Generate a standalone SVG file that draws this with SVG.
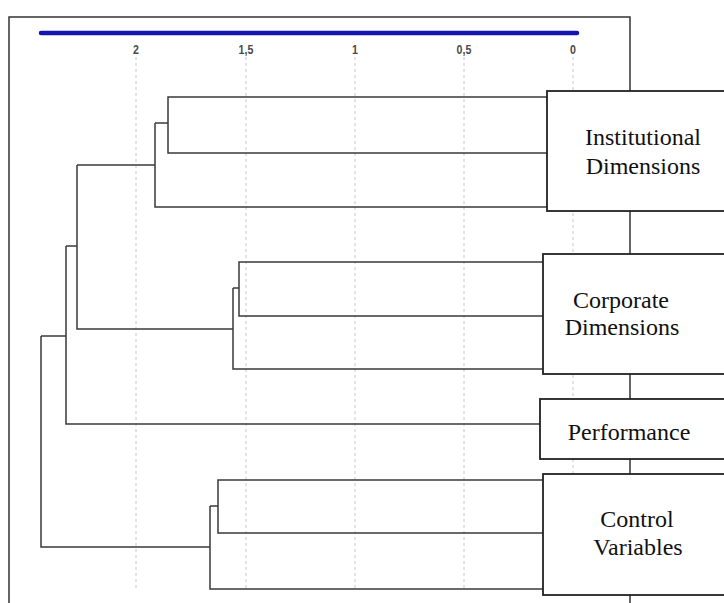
<svg xmlns="http://www.w3.org/2000/svg" width="724" height="603" viewBox="0 0 724 603">
<style>
.frame{fill:none;stroke:#333;stroke-width:1.5}
.grid{stroke:#c8c8c8;stroke-width:1;stroke-dasharray:3 3}
.tick{font-family:"Liberation Sans",Arial,sans-serif;font-size:12.5px;font-weight:bold;fill:#4a4a4a;text-anchor:middle}
.den{fill:none;stroke:#3a3a3a;stroke-width:1.5}
.box{fill:#fff;stroke:#222;stroke-width:1.8}
.lbl{font-family:"Liberation Serif","Times New Roman",serif;font-size:24px;fill:#111;text-anchor:middle}
</style>
<rect x="0" y="0" width="724" height="603" fill="#fff"/>
<g id="frame">
<path class="frame" d="M9,610 V17 H630 V610"/>
</g>
<g id="axis">
<line x1="136" y1="57" x2="136" y2="588" class="grid"/>
<line x1="246" y1="57" x2="246" y2="588" class="grid"/>
<line x1="355" y1="57" x2="355" y2="588" class="grid"/>
<line x1="464" y1="57" x2="464" y2="588" class="grid"/>
<line x1="573" y1="57" x2="573" y2="588" class="grid"/>
<line x1="41" y1="33" x2="577" y2="33" stroke="#1515b0" stroke-width="4.5" stroke-linecap="round"/>
<text x="136" y="54" class="tick" transform="translate(136 0) scale(0.85 1) translate(-136 0)">2</text>
<text x="246" y="54" class="tick" transform="translate(246 0) scale(0.85 1) translate(-246 0)">1,5</text>
<text x="355" y="54" class="tick" transform="translate(355 0) scale(0.85 1) translate(-355 0)">1</text>
<text x="464" y="54" class="tick" transform="translate(464 0) scale(0.85 1) translate(-464 0)">0,5</text>
<text x="573" y="54" class="tick" transform="translate(573 0) scale(0.85 1) translate(-573 0)">0</text>
</g>
<g id="connectors">
<path class="den" d="M630,97 H168 V153 H630"/>
<path class="den" d="M168,123 H155"/>
<path class="den" d="M630,207 H155 V123"/>
<path class="den" d="M155,165 H77"/>
<path class="den" d="M630,262 H239 V316 H630"/>
<path class="den" d="M239,288 H233"/>
<path class="den" d="M630,369 H233 V288"/>
<path class="den" d="M233,329 H77 V165"/>
<path class="den" d="M77,246 H66"/>
<path class="den" d="M630,424 H66 V246"/>
<path class="den" d="M66,336 H41"/>
<path class="den" d="M630,480 H218 V533 H630"/>
<path class="den" d="M218,506 H210"/>
<path class="den" d="M630,589 H210 V506"/>
<path class="den" d="M210,547 H41 V336"/>
</g>
<g id="institutional">
<rect class="box" x="547" y="91" width="190" height="120"/>
<text class="lbl" x="643" y="145">Institutional</text>
<text class="lbl" x="643" y="174">Dimensions</text>
</g>
<g id="corporate">
<rect class="box" x="543" y="254" width="190" height="120"/>
<text class="lbl" x="621" y="308">Corporate</text>
<text class="lbl" x="622" y="335">Dimensions</text>
</g>
<g id="performance">
<rect class="box" x="540" y="399" width="190" height="60"/>
<text class="lbl" x="629" y="440">Performance</text>
</g>
<g id="control">
<rect class="box" x="543" y="474" width="190" height="121"/>
<text class="lbl" x="637" y="527">Control</text>
<text class="lbl" x="638" y="555">Variables</text>
</g>
</svg>
